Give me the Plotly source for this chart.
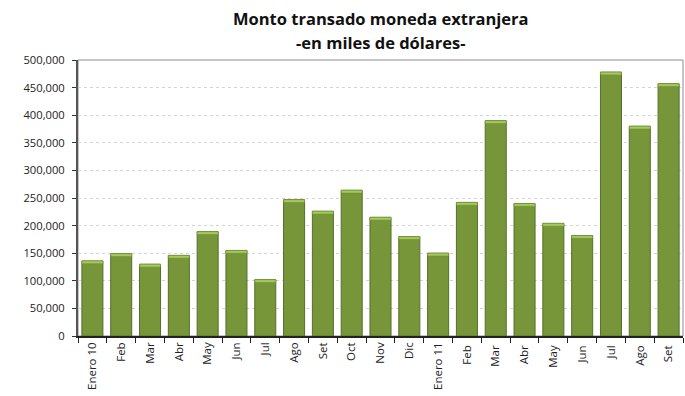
import plotly.graph_objects as go

months = ["Enero 10", "Feb", "Mar", "Abr", "May", "Jun", "Jul", "Ago", "Set", "Oct", "Nov", "Dic",
          "Enero 11", "Feb ", "Mar ", "Abr ", "May ", "Jun ", "Jul ", "Ago ", "Set "]
values = [136000, 149000, 130000, 146000, 189000, 155000, 102000, 247000, 226000, 264000, 215000, 180000,
          150000, 242000, 390000, 240000, 204000, 182000, 478000, 380000, 457000]
y_ticks = [0, 50000, 100000, 150000, 200000, 250000, 300000, 350000, 400000, 450000, 500000]
title_lines = ["Monto transado moneda extranjera", "-en miles de dólares-"]

cap = 5000
fig = go.Figure()
fig.add_trace(go.Bar(
    x=months, y=values,
    marker=dict(color="#77963a", line=dict(color="#55702a", width=1)),
    hoverinfo="x+y",
))
# lighter top cap
fig.add_trace(go.Bar(
    x=months, y=[cap] * len(values), base=[v - cap for v in values],
    marker=dict(color="#a6c95c", line=dict(color="#6f8f35", width=0.5)),
    hoverinfo="skip",
))

fig.update_layout(
    barmode="overlay",
    bargap=0.27,
    width=685, height=396,
    margin=dict(l=78, r=2, t=60, b=60),
    paper_bgcolor="white", plot_bgcolor="white",
    showlegend=False,
    font=dict(family="Open Sans, Liberation Sans, sans-serif", size=11, color="#222"),
    annotations=[
        dict(text="<b>%s</b>" % title_lines[0], xref="paper", yref="paper", x=0.5, y=1.152,
             xanchor="center", yanchor="middle", showarrow=False, font=dict(size=16.5, color="#111")),
        dict(text="<b>%s</b>" % title_lines[1], xref="paper", yref="paper", x=0.5, y=1.065,
             xanchor="center", yanchor="middle", showarrow=False, font=dict(size=16.5, color="#111")),
    ],
    shapes=[dict(type="rect", xref="x domain", yref="y domain", x0=0, x1=1, y0=0, y1=1,
                 line=dict(color="#8c8c8c", width=1), layer="below")],
)
fig.update_xaxes(
    type="category", tickangle=-90, tickson="boundaries",
    ticks="outside", ticklen=5, tickcolor="#222",
    showline=True, linecolor="#222", linewidth=1.5,
    showgrid=False, tickfont=dict(size=11.5),
)
fig.update_yaxes(
    range=[0, 500000], tickvals=y_ticks, tickformat=",d",
    ticks="outside", ticklen=4, tickcolor="#333", ticklabelstandoff=5,
    showline=True, linecolor="#555", linewidth=2,
    showgrid=True, gridcolor="#d4d4d4", griddash="dot", gridwidth=1,
    tickfont=dict(size=11.2), zeroline=False,
)

fig.write_html("out.html", config={"displayModeBar": False},
               post_script="document.body.style.margin='0';")
